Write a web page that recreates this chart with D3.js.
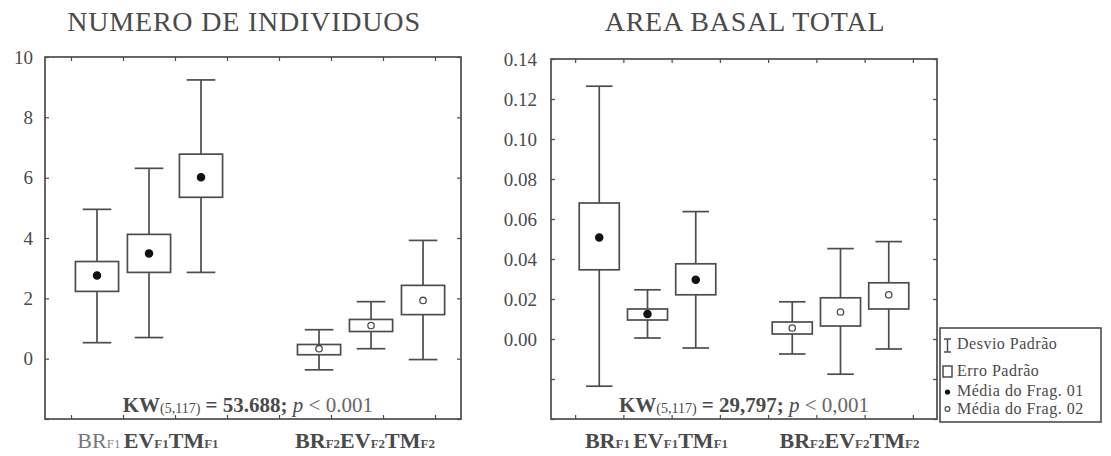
<!DOCTYPE html>
<html>
<head>
<meta charset="utf-8">
<script src="https://cdn.jsdelivr.net/npm/d3@7"></script>
<style>
  body { margin: 0; background: #fff; }
  svg text { font-family: "Liberation Serif", "Times New Roman", serif; fill: #4a4a4a; }
</style>
</head>
<body>
<div id="chart"></div>
<script>
// categories
var groups = ["BR", "EV", "TM", "BR", "EV", "TM"];
var frags = ["F1", "F1", "F1", "F2", "F2", "F2"];
var fragOf = [1, 1, 1, 2, 2, 2];

// NUMERO DE INDIVIDUOS
var numSlots = [1, 2, 3, 5.27, 6.27, 7.27];
var numMean = [2.76, 3.49, 6.01, 0.33, 1.10, 1.93];
var numSeLow = [2.23, 2.86, 5.35, 0.13, 0.90, 1.46];
var numSeHigh = [3.22, 4.12, 6.78, 0.47, 1.30, 2.43];
var numSdLow = [0.53, 0.70, 2.86, -0.37, 0.33, -0.03];
var numSdHigh = [4.95, 6.31, 9.24, 0.96, 1.89, 3.92];
var numTicks = [-2, 0, 2, 4, 6, 8, 10];

// AREA BASAL TOTAL
var abtSlots = [1, 2, 3, 5, 6, 7];
var abtMean = [0.0507, 0.0125, 0.0296, 0.0055, 0.0135, 0.0221];
var abtSeLow = [0.0346, 0.0095, 0.0221, 0.0025, 0.0065, 0.0150];
var abtSeHigh = [0.0680, 0.0150, 0.0376, 0.0085, 0.0206, 0.0281];
var abtSdLow = [-0.0236, 0.0005, -0.0045, -0.0075, -0.0176, -0.0050];
var abtSdHigh = [0.1264, 0.0246, 0.0637, 0.0186, 0.0452, 0.0487];
var abtTicks = [-0.04, -0.02, 0, 0.02, 0.04, 0.06, 0.08, 0.10, 0.12, 0.14];

var legendItems = ["Desvio Padrão", "Erro Padrão", "Média do Frag. 01", "Média do Frag. 02"];

var ink = "#4d4d4d";

var svg = d3.select("#chart").append("svg")
  .attr("width", 1111)
  .attr("height", 456);

function buildRows(slots, mean, seL, seH, sdL, sdH) {
  return slots.map(function(s, i) {
    return {slot: s, mean: mean[i], seL: seL[i], seH: seH[i], sdL: sdL[i], sdH: sdH[i],
            group: groups[i], frag: frags[i], f: fragOf[i]};
  });
}

function drawPanel(p) {
  var g = svg.append("g").attr("transform", "translate(" + p.left + "," + p.top + ")");
  var x = d3.scaleLinear().domain([0, 8]).range([0, p.width]);
  var y = d3.scaleLinear().domain(p.domain).range([p.height, 0]);
  var unit = x(1) - x(0);

  // frame
  g.append("rect")
    .attr("width", p.width).attr("height", p.height)
    .attr("fill", "none").attr("stroke", ink).attr("stroke-width", 1.7);

  // y axes (ticks point inward)
  var yl = g.append("g").call(d3.axisLeft(y).tickValues(p.ticks).tickSize(-4).tickPadding(p.pad)
    .tickFormat(function(d) { return d < 0 ? "" : p.fmt(d); }));
  var yr = g.append("g").attr("transform", "translate(" + p.width + ",0)")
    .call(d3.axisRight(y).tickValues(p.ticks).tickSize(-4).tickFormat(""));
  // x ticks top and bottom
  var halfTicks = d3.range(0.5, 8, 1);
  var xt = g.append("g").call(d3.axisTop(x).tickValues(halfTicks).tickSize(-4).tickFormat(""));
  var xb = g.append("g").attr("transform", "translate(0," + p.height + ")")
    .call(d3.axisBottom(x).tickValues(halfTicks).tickSize(-4).tickFormat(""));
  [yl, yr, xt, xb].forEach(function(a) {
    a.select(".domain").remove();
    a.selectAll("line").attr("stroke", ink).attr("stroke-width", 1.2);
    a.selectAll("text").attr("font-size", 19).attr("fill", "#555")
      .style("font-family", "'Liberation Serif', serif");
  });

  var box = g.selectAll(".box").data(p.rows).enter().append("g").attr("class", "box");
  // whiskers
  box.append("line")
    .attr("x1", function(d) { return x(d.slot); }).attr("x2", function(d) { return x(d.slot); })
    .attr("y1", function(d) { return y(d.sdL); }).attr("y2", function(d) { return y(d.sdH); })
    .attr("stroke", ink).attr("stroke-width", 1.7);
  ["sdL", "sdH"].forEach(function(k) {
    box.append("line")
      .attr("x1", function(d) { return x(d.slot) - unit * 0.275; })
      .attr("x2", function(d) { return x(d.slot) + unit * 0.275; })
      .attr("y1", function(d) { return y(d[k]); }).attr("y2", function(d) { return y(d[k]); })
      .attr("stroke", ink).attr("stroke-width", 1.7);
  });
  // standard error box
  box.append("rect")
    .attr("x", function(d) { return x(d.slot) - unit * 0.415; })
    .attr("width", unit * 0.83)
    .attr("y", function(d) { return y(d.seH); })
    .attr("height", function(d) { return y(d.seL) - y(d.seH); })
    .attr("fill", "#fff").attr("stroke", ink).attr("stroke-width", 1.7);
  // mean
  box.append("circle")
    .attr("cx", function(d) { return x(d.slot); })
    .attr("cy", function(d) { return y(d.mean); })
    .attr("r", function(d) { return d.f === 1 ? 3.6 : 3.2; })
    .attr("fill", function(d) { return d.f === 1 ? "#111" : "#fff"; })
    .attr("stroke", function(d) { return d.f === 1 ? "#111" : ink; })
    .attr("stroke-width", 1.3);

  // title
  svg.append("text")
    .attr("x", p.left + p.titleX).attr("y", 31)
    .attr("text-anchor", "middle").attr("font-size", 28)
    .attr("letter-spacing", 0.8)
    .text(p.title);

  // KW statistic
  var kw = g.append("text")
    .attr("x", x(p.kwX)).attr("y", 412 - p.top)
    .attr("text-anchor", "middle").attr("font-size", 21);
  kw.append("tspan").attr("font-weight", "bold").text("KW");
  kw.append("tspan").attr("font-size", 14).attr("dy", 1).text("(5,117)");
  kw.append("tspan").attr("font-weight", "bold").attr("dy", -1).text(" = " + p.kw + ";");
  kw.append("tspan").attr("font-style", "italic").text(" p");
  kw.append("tspan").attr("fill", "#666").text(" < " + p.pv);

  // category labels
  [0, 3].forEach(function(start) {
    var lab = g.append("text")
      .attr("x", x(p.rows[start + 1].slot) + p.labShift[start ? 1 : 0])
      .attr("y", 448 - p.top)
      .attr("text-anchor", "middle").attr("font-size", 22);
    for (var i = start; i < start + 3; i++) {
      var plain = p.plainBR && i === 0;
      lab.append("tspan")
        .attr("font-weight", plain ? "normal" : "bold")
        .attr("fill", plain ? "#777" : "#4a4a4a")
        .text(groups[i]);
      lab.append("tspan")
        .attr("font-size", 13)
        .attr("font-weight", plain ? "normal" : "bold")
        .attr("fill", plain ? "#888" : "#555")
        .text(frags[i] + (i === 0 ? " " : ""));
    }
  });
}

drawPanel({
  left: 45, top: 57, width: 416, height: 362,
  domain: [-2, 10], ticks: numTicks, pad: 12, fmt: d3.format("d"),
  rows: buildRows(numSlots, numMean, numSeLow, numSeHigh, numSdLow, numSdHigh),
  title: "NUMERO DE INDIVIDUOS", titleX: 199,
  kw: "53.688", pv: "0.001", kwX: 3.9,
  labShift: [-1, -6], plainBR: true
});

drawPanel({
  left: 551, top: 59, width: 386, height: 360,
  domain: [-0.04, 0.14], ticks: abtTicks, pad: 14, fmt: d3.format(".2f"),
  rows: buildRows(abtSlots, abtMean, abtSeLow, abtSeHigh, abtSdLow, abtSdHigh),
  title: "AREA BASAL TOTAL", titleX: 194,
  kw: "29,797", pv: "0,001", kwX: 4.0,
  labShift: [9, 9], plainBR: false
});

// legend
var leg = svg.append("g").attr("transform", "translate(940,328)");
leg.append("rect").attr("width", 161).attr("height", 94)
  .attr("fill", "#fff").attr("stroke", ink).attr("stroke-width", 1.6);
var legY = [21, 48, 68, 86];
leg.selectAll(".lt").data(legendItems).enter().append("text")
  .attr("x", 17).attr("y", function(d, i) { return legY[i]; })
  .attr("font-size", 16).attr("letter-spacing", 0.5).attr("fill", "#555")
  .text(function(d) { return d; });
// whisker symbol
leg.append("path").attr("d", "M4,11H11M7.5,11V24M4,24H11")
  .attr("fill", "none").attr("stroke", ink).attr("stroke-width", 1.5);
// box symbol
leg.append("rect").attr("x", 3).attr("y", 38).attr("width", 9).attr("height", 11)
  .attr("fill", "none").attr("stroke", ink).attr("stroke-width", 1.5);
leg.append("circle").attr("cx", 7.5).attr("cy", 64).attr("r", 2.6).attr("fill", "#111");
leg.append("circle").attr("cx", 7.5).attr("cy", 81).attr("r", 2.4)
  .attr("fill", "#fff").attr("stroke", ink).attr("stroke-width", 1.2);
</script>
</body>
</html>
